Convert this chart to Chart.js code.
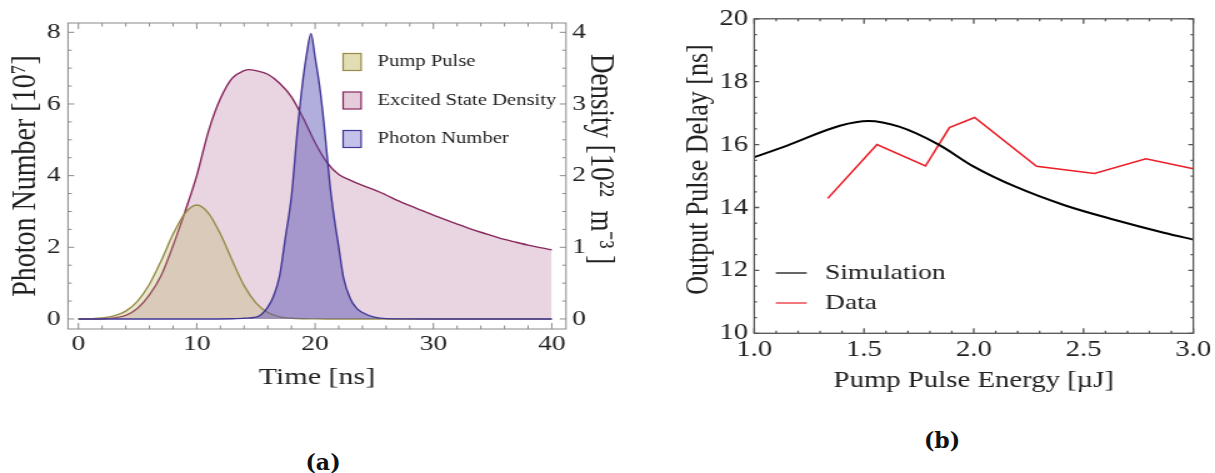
<!DOCTYPE html>
<html>
<head>
<meta charset="utf-8">
<script src="https://cdn.jsdelivr.net/npm/chart.js@4.4.1/dist/chart.umd.min.js"></script>
<style>
body { margin: 0; background: #fff; width: 1215px; height: 473px; overflow: hidden; position: relative; }
.panel { position: absolute; top: 0; height: 400px; }
#boxA { left: 0; width: 620px; }
#boxB { left: 640px; width: 575px; }
canvas { display: block; }
.cap { position: absolute; transform: translate(-50%, -50%); font: bold 22px "DejaVu Serif", serif; color: #111; }
</style>
</head>
<body>
<div class="panel" id="boxA"><canvas id="chartA" width="496" height="400" style="width:620px;height:400px"></canvas></div>
<div class="panel" id="boxB"><canvas id="chartB" width="460" height="400" style="width:575px;height:400px"></canvas></div>
<div class="cap" style="left:323px;top:462px">(a)</div>
<div class="cap" style="left:942px;top:440px">(b)</div>
<script>
// (a) simulated pulses
const timeNs = [0,1,2,3,4,5,6,7,8,9,10,11,12,13,14,15,16,17,18,19,20,21,22,23,24,25,26,27,28,29,30,31,32,33,34,35,36,37,38,39,40];
const pumpPulse = [0.002,0.008,0.028,0.085,0.22,0.5,0.97,1.63,2.37,2.95,3.18,2.95,2.37,1.63,0.93,0.45,0.18,0.06,0.02,0.006,0.002,0,0,0,0,0,0,0,0,0,0,0,0,0,0,0,0,0,0,0,0];
const densityT = [0,1,2,3,4,5,6,7,8,9,10,11,12,13,14,14.4,15,16,17,18,19,20,21,22,23,24,25,26,27,28,29,30,31,32,33,34,35,36,37,38,39,40];
const excitedDensity = [0,0,0.003,0.015,0.05,0.15,0.335,0.61,1.025,1.495,2.0,2.625,3.075,3.36,3.465,3.48,3.465,3.415,3.29,3.1,2.8,2.46,2.185,2.015,1.935,1.865,1.8,1.73,1.65,1.58,1.515,1.45,1.385,1.325,1.265,1.21,1.16,1.11,1.07,1.03,0.995,0.965];
const photonT = [0,5,10,13,14,15,15.5,16,16.5,17,17.5,18,18.5,19,19.3,19.65,20,20.4,20.75,21,21.25,21.6,22,22.4,23,23.5,24,25,26,30,35,40];
const photonN = [0,0,0,0.005,0.02,0.05,0.14,0.33,0.65,1.2,2.3,3.42,5.25,6.75,7.42,7.97,7.3,6.45,5.45,4.6,3.75,2.85,2.0,1.15,0.55,0.3,0.18,0.05,0.01,0,0,0];
const timeTicks = [0,10,20,30,40];
const photonTicks = [0,2,4,6,8];
const densityTicks = [0,1,2,3,4];

// (b) delay vs pump energy
const simEnergy = [1.0,1.15,1.39,1.52,1.66,1.84,2.0,2.19,2.41,2.64,2.87,3.0];
const simDelay = [15.6,15.97,16.6,16.75,16.57,16.0,15.3,14.66,14.08,13.61,13.19,12.98];
const dataEnergy = [1.335,1.559,1.78,1.889,2.004,2.286,2.55,2.784,3.0];
const dataDelay = [14.29,16.0,15.32,16.54,16.86,15.31,15.08,15.55,15.23];
const energyTicks = [1.0,1.5,2.0,2.5,3.0];
const delayTicks = [10,12,14,16,18,20];

const SERIF = "'Liberation Serif', 'Times New Roman', serif";

function pts(xs, ys) {
    return xs.map((x, i) => ({ x: x, y: ys[i] }));
}

// frame + inward major/minor ticks on all sides
const frameTicks = {
    id: 'frameTicks',
    afterDatasetsDraw(chart, args, o) {
        const ctx = chart.ctx, a = chart.chartArea;
        ctx.save();
        ctx.strokeStyle = o.color;
        ctx.lineWidth = o.width;
        ctx.strokeRect(a.left, a.top, a.right - a.left, a.bottom - a.top);
        o.marks.forEach(m => {
            const sc = chart.scales[m.scale];
            for (let k = Math.ceil(sc.min / m.minor - 1e-9); k * m.minor <= sc.max + 1e-9; k++) {
                const v = k * m.minor;
                const isMajor = Math.abs(v / m.major - Math.round(v / m.major)) < 1e-6;
                const len = isMajor ? m.long : m.short;
                const p = sc.getPixelForValue(v);
                ctx.beginPath();
                m.sides.forEach(side => {
                    if (side == 'bottom') { ctx.moveTo(p, a.bottom); ctx.lineTo(p, a.bottom - len); }
                    if (side == 'top') { ctx.moveTo(p, a.top); ctx.lineTo(p, a.top + len); }
                    if (side == 'left') { ctx.moveTo(a.left, p); ctx.lineTo(a.left + len, p); }
                    if (side == 'right') { ctx.moveTo(a.right, p); ctx.lineTo(a.right - len, p); }
                });
                ctx.stroke();
            }
        });
        ctx.restore();
    }
};

// legend inside the plot
const boxLegend = {
    id: 'boxLegend',
    afterDraw(chart, args, o) {
        const ctx = chart.ctx;
        ctx.save();
        ctx.font = o.size + 'px ' + SERIF;
        ctx.textBaseline = 'middle';
        chart.data.datasets.forEach((ds, i) => {
            const y = o.y + i * o.step;
            if (o.kind == 'box') {
                ctx.fillStyle = o.fills[i];
                ctx.fillRect(o.x, y - o.h / 2, o.w, o.h);
                ctx.strokeStyle = ds.borderColor;
                ctx.lineWidth = 1.2;
                ctx.strokeRect(o.x, y - o.h / 2, o.w, o.h);
            } else {
                ctx.strokeStyle = ds.borderColor;
                ctx.lineWidth = 1.2;
                ctx.beginPath();
                ctx.moveTo(o.x, y);
                ctx.lineTo(o.x + o.w, y);
                ctx.stroke();
            }
            ctx.fillStyle = '#222';
            ctx.fillText(ds.label, o.tx, y);
        });
        ctx.restore();
    }
};

function tickFont(size) {
    return { font: { family: SERIF, size: size }, color: '#222' };
}

const chartA = new Chart(document.getElementById('chartA'), {
    type: 'line',
    data: {
        datasets: [{
            label: 'Pump Pulse',
            data: pts(timeNs, pumpPulse),
            yAxisID: 'y',
            order: 1,
            borderColor: 'rgb(150,140,72)',
            backgroundColor: 'rgba(185,175,95,0.3)',
            fill: 'origin',
            borderWidth: 1.4,
            pointRadius: 0,
            cubicInterpolationMode: 'monotone'
        }, {
            label: 'Excited State Density',
            data: pts(densityT, excitedDensity),
            yAxisID: 'y2',
            order: 2,
            borderColor: 'rgb(135,38,92)',
            backgroundColor: 'rgba(160,80,130,0.24)',
            fill: 'origin',
            borderWidth: 1.4,
            pointRadius: 0,
            cubicInterpolationMode: 'monotone'
        }, {
            label: 'Photon Number',
            data: pts(photonT, photonN),
            yAxisID: 'y',
            order: 0,
            borderColor: 'rgb(65,55,150)',
            backgroundColor: 'rgba(85,75,175,0.45)',
            fill: 'origin',
            borderWidth: 1.4,
            pointRadius: 0,
            cubicInterpolationMode: 'monotone'
        }]
    },
    plugins: [frameTicks, boxLegend],
    options: {
        responsive: false,
        animation: false,
        devicePixelRatio: 1,
        layout: { padding: { top: 23, left: 0, right: 0, bottom: 0 } },
        plugins: {
            legend: { display: false },
            tooltip: { enabled: false },
            frameTicks: {
                color: '#8a8a8a', width: 1,
                marks: [
                    { scale: 'x', major: 10, minor: 2, long: 6, short: 3.5, sides: ['bottom', 'top'] },
                    { scale: 'y', major: 2, minor: 0.5, long: 5, short: 3, sides: ['left'] },
                    { scale: 'y2', major: 1, minor: 0.25, long: 5, short: 3, sides: ['right'] }
                ]
            },
            boxLegend: {
                kind: 'box', size: 16.5, x: 274.5, y: 62, step: 38.5, w: 14.4, h: 17, tx: 302,
                fills: ['rgb(226,221,180)', 'rgb(228,204,218)', 'rgb(196,194,232)']
            }
        },
        scales: {
            x: {
                type: 'linear', position: 'bottom', min: -0.88, max: 41.2,
                grid: { display: false, drawTicks: false }, border: { display: false },
                afterBuildTicks: s => { s.ticks = timeTicks.map(v => ({ value: v })); },
                afterFit: s => { s.height = 71; },
                ticks: Object.assign({ padding: 2, maxRotation: 0 }, tickFont(22)),
                title: { display: true, text: 'Time [ns]', color: '#222', font: { family: SERIF, size: 24 }, padding: { top: 0, bottom: 8 } }
            },
            y: {
                type: 'linear', position: 'left', min: -0.28, max: 8.26,
                grid: { display: false, drawTicks: false }, border: { display: false },
                afterBuildTicks: s => { s.ticks = photonTicks.map(v => ({ value: v })); },
                afterFit: s => { s.width = 54.4; },
                ticks: Object.assign({ padding: 6 }, tickFont(22)),
                title: { display: true, text: 'Photon Number [10⁷]', color: '#222', font: { family: SERIF, size: 28 }, padding: { top: 4, bottom: 0 } }
            },
            y2: {
                type: 'linear', position: 'right', min: -0.14, max: 4.13,
                grid: { display: false, drawTicks: false }, border: { display: false },
                afterBuildTicks: s => { s.ticks = densityTicks.map(v => ({ value: v })); },
                afterFit: s => { s.width = 43.2; },
                ticks: Object.assign({ padding: 5 }, tickFont(22)),
                title: { display: true, text: 'Density [10²²  m⁻³ ]     ', color: '#222', font: { family: SERIF, size: 27 }, padding: { top: 0, bottom: 0 } }
            }
        }
    }
});

const chartB = new Chart(document.getElementById('chartB'), {
    type: 'line',
    data: {
        datasets: [{
            label: 'Simulation',
            data: pts(simEnergy, simDelay),
            borderColor: '#000',
            borderWidth: 2,
            pointRadius: 0,
            cubicInterpolationMode: 'monotone',
            fill: false
        }, {
            label: 'Data',
            data: pts(dataEnergy, dataDelay),
            borderColor: 'rgb(235,30,40)',
            borderWidth: 1.6,
            pointRadius: 0,
            tension: 0,
            fill: false
        }]
    },
    plugins: [frameTicks, boxLegend],
    options: {
        responsive: false,
        animation: false,
        devicePixelRatio: 1,
        layout: { padding: { top: 15, left: 0, right: 15.2, bottom: 0 } },
        plugins: {
            legend: { display: false },
            tooltip: { enabled: false },
            frameTicks: {
                color: '#555', width: 1.3,
                marks: [
                    { scale: 'x', major: 0.5, minor: 0.1, long: 5, short: 2.5, sides: ['bottom', 'top'] },
                    { scale: 'y', major: 2, minor: 0.5, long: 4, short: 2.2, sides: ['left', 'right'] }
                ]
            },
            boxLegend: { kind: 'line', size: 22, x: 108.6, y: 273, step: 30, w: 24.8, tx: 148 }
        },
        scales: {
            x: {
                type: 'linear', position: 'bottom', min: 1, max: 3,
                grid: { display: false, drawTicks: false }, border: { display: false },
                afterBuildTicks: s => { s.ticks = energyTicks.map(v => ({ value: v })); },
                afterFit: s => { s.height = 66.7; },
                ticks: Object.assign({ padding: 3, maxRotation: 0, callback: v => Number(v).toFixed(1) }, tickFont(23)),
                title: { display: true, text: 'Pump Pulse Energy [µJ]', color: '#222', font: { family: SERIF, size: 23 }, padding: { top: 0, bottom: 5.5 } }
            },
            y: {
                type: 'linear', position: 'left', min: 10, max: 20,
                grid: { display: false, drawTicks: false }, border: { display: false },
                afterBuildTicks: s => { s.ticks = delayTicks.map(v => ({ value: v })); },
                afterFit: s => { s.width = 91.4; },
                ticks: Object.assign({ padding: 5 }, tickFont(23)),
                title: { display: true, text: '  Output Pulse Delay [ns]', color: '#222', font: { family: SERIF, size: 26 }, padding: { top: 32, bottom: 0 } }
            }
        }
    }
});
</script>
</body>
</html>
